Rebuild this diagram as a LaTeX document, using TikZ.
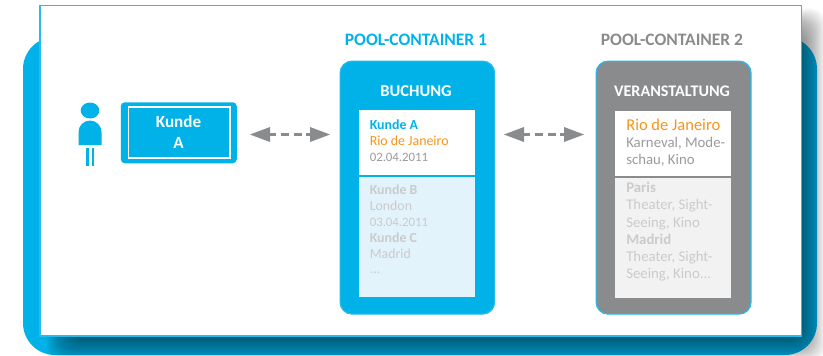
\documentclass[tikz,border=0pt]{standalone}
\usepackage{fontspec}
\setmainfont{Carlito}
\definecolor{cblue}{HTML}{00B2E8}
\definecolor{cline}{HTML}{25BCEB}
\definecolor{cgray}{HTML}{8A8B8D}
\definecolor{corange}{HTML}{F7941D}
\definecolor{ctext}{HTML}{9A9B9D}
\definecolor{cfade}{HTML}{C9CBCC}
\definecolor{cpaleblue}{HTML}{E3F3FB}
\definecolor{cpalegray}{HTML}{F2F2F2}
\tikzset{
  pool/.style={draw=cline, line width=0.9pt, rounded corners=9pt},
  panel/.style={anchor=north west, inner sep=0pt},
  title/.style={font=\fontsize{13.1}{15}\selectfont\bfseries, anchor=center, inner sep=0pt},
  head/.style={text=white, anchor=center, inner sep=0pt},
  body/.style={anchor=north west, inner sep=0pt, align=left, font=\fontsize{10.4}{12}\selectfont},
  bodytwo/.style={anchor=north west, inner sep=0pt, align=left, font=\fontsize{11.1}{12.6}\selectfont},
  link/.style={draw=cgray, line width=1.9pt, dash pattern=on 6pt off 3.6pt},
  tip/.style={fill=cgray, draw=none}
}
\begin{document}
\begin{tikzpicture}[x=0.75pt,y=-0.75pt]
\useasboundingbox (0,0) rectangle (823,355);
\fill[white] (0,0) rectangle (823,355);
% blue backing
\fill[cblue, rounded corners=24pt] (23,37) rectangle (817,355);
% blurred shadow of the sheet
\foreach \d in {-12,-11.25,...,12}{
  \fill[black, fill opacity=0.0165, rounded corners=12pt]
    ({58+\d},{20+\d}) rectangle ({814-\d},{351-\d});
}
% white sheet
\fill[white, draw=cline, line width=1pt] (40,5.5) rectangle (801.5,336);
% person
\fill[cblue] (90,110.5) ellipse (9.3 and 8);
\fill[cblue] (78.5,145) -- (78.5,132) arc[start angle=180,end angle=360,x radius=11.5,y radius=11.5] -- (101.5,145) -- cycle;
\fill[cblue] (86,148) rectangle (88.5,166);
\fill[cblue] (91.8,148) rectangle (94.3,166);
% customer box
\node[panel, fill=cblue, rounded corners=3pt, minimum width=87pt, minimum height=45.75pt] (kunde) at (120.5,102) {};
\draw[white, line width=0.8pt] (128.5,107) rectangle (230,158);
\node[font=\fontsize{12.8}{14.5}\selectfont\bfseries, text=white, align=center, inner sep=0pt] (kl) at (178.5,132) {Kunde\\[1pt]A};
% pool 1
\node[pool, panel, fill=cblue, minimum width=115.9pt, minimum height=189.75pt] (p1) at (339.5,60.5) {};
\node[title, text=cblue] (t1) at (416,40) {POOL-CONTAINER 1};
\node[head, font=\fontsize{12.4}{14}\selectfont\bfseries] (h1) at (416,91) {BUCHUNG};
\fill[white] (359,110) rectangle (475,175);
\fill[cpaleblue] (359,177) rectangle (475,297);
\node[body] (a1) at (369.5,119) {\textcolor{cblue}{\bfseries Kunde A}\\[0.2pt]\textcolor{corange}{Rio de Janeiro}\\[0.2pt]\textcolor{ctext}{\fontsize{9.6}{12}\selectfont 02.04.2011}};
\node[body, text=cfade] (a2) at (369.5,184) {\bfseries Kunde B\\[0pt]London\\[0pt]{\fontsize{9.6}{12}\selectfont 03.04.2011}\\[0.2pt]\bfseries Kunde C\\[0.2pt]Madrid\\[-1pt]...};
% pool 2
\node[pool, panel, fill=cgray, minimum width=116.2pt, minimum height=189.75pt] (p2) at (595.5,60.5) {};
\node[title, text=cgray] (t2) at (672,40) {POOL-CONTAINER 2};
\node[head, font=\fontsize{12.1}{14}\selectfont\bfseries] (h2) at (672,91) {VERANSTALTUNG};
\fill[white] (615,111) rectangle (731,176);
\fill[cpalegray] (615,178) rectangle (731,298);
\node[body, text=corange, font=\fontsize{12.4}{14}\selectfont] (b1) at (626,119) {Rio de Janeiro};
\node[bodytwo, text=ctext] (b1b) at (626,137) {Karneval, Mode-\\[0.4pt]schau, Kino};
\node[bodytwo, text=cfade] (b2) at (626,182) {\bfseries Paris\\[0.4pt]Theater, Sight-\\[0.4pt]Seeing, Kino\\[0.2pt]\bfseries Madrid\\[0.4pt]Theater, Sight-\\[0.2pt]Seeing, Kino...};
% arrows
\coordinate (l1) at (250,134.5); \coordinate (r1) at (330,134.5);
\coordinate (l2) at (504,134.5); \coordinate (r2) at (584,134.5);
\draw[link] (268,134.5) -- (314,134.5);
\fill[tip] (l1) -- ++(20,-7.5) -- ++(0,15) -- cycle;
\fill[tip] (r1) -- ++(-20,-7.5) -- ++(0,15) -- cycle;
\draw[link] (522,134.5) -- (568,134.5);
\fill[tip] (l2) -- ++(20,-7.5) -- ++(0,15) -- cycle;
\fill[tip] (r2) -- ++(-20,-7.5) -- ++(0,15) -- cycle;
\end{tikzpicture}
\end{document}
